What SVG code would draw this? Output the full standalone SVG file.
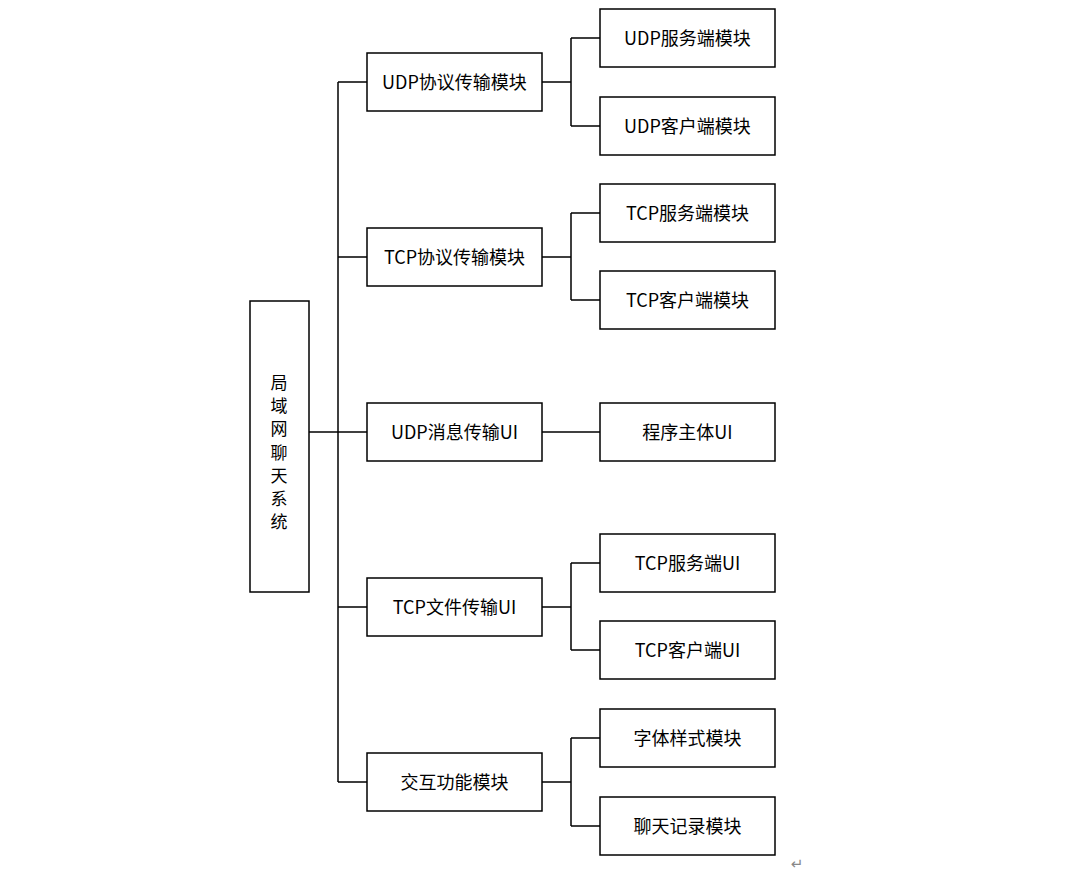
<svg xmlns="http://www.w3.org/2000/svg" width="1071" height="878" viewBox="0 0 1071 878">
<style>
.box{fill:#fff;stroke:#000;stroke-width:1.5}
.lbl{font-family:"Noto Sans CJK SC","Liberation Sans",sans-serif;font-size:18px;fill:#000;text-anchor:middle;dominant-baseline:central}
.vt{font-size:17px}
.ln{fill:none;stroke:#000;stroke-width:1.5}
</style>
<rect width="1071" height="878" fill="#fff"/>
<g id="connectors">
<path class="ln" d="M309 432H367"/>
<path class="ln" d="M338 82V782"/>
<path class="ln" d="M338 82H367M338 257H367M338 607H367M338 782H367"/>
<path class="ln" d="M542 82H571M571 38V126M571 38H600M571 126H600"/>
<path class="ln" d="M542 257H571M571 213V300M571 213H600M571 300H600"/>
<path class="ln" d="M542 432H600"/>
<path class="ln" d="M542 607H571M571 563V650M571 563H600M571 650H600"/>
<path class="ln" d="M542 782H571M571 738V826M571 738H600M571 826H600"/>
</g>
<g id="root">
<rect class="box" x="250" y="301" width="59" height="291"/>
<text class="lbl vt" x="279" y="381">局</text>
<text class="lbl vt" x="279" y="404">域</text>
<text class="lbl vt" x="279" y="427.5">网</text>
<text class="lbl vt" x="279" y="451">聊</text>
<text class="lbl vt" x="279" y="474">天</text>
<text class="lbl vt" x="279" y="497">系</text>
<text class="lbl vt" x="279" y="520">统</text>
</g>
<g id="udp-proto"><rect class="box" x="367" y="53" width="175" height="58"/><text class="lbl" x="454.5" y="80.5">UDP协议传输模块</text></g>
<g id="tcp-proto"><rect class="box" x="367" y="228" width="175" height="58"/><text class="lbl" x="454.5" y="255.5">TCP协议传输模块</text></g>
<g id="udp-msg"><rect class="box" x="367" y="403" width="175" height="58"/><text class="lbl" x="454.5" y="430.5">UDP消息传输UI</text></g>
<g id="tcp-file"><rect class="box" x="367" y="578" width="175" height="58"/><text class="lbl" x="454.5" y="605.5">TCP文件传输UI</text></g>
<g id="interact"><rect class="box" x="367" y="753" width="175" height="58"/><text class="lbl" x="454.5" y="780.5">交互功能模块</text></g>
<g id="udp-server"><rect class="box" x="600" y="9" width="175" height="58"/><text class="lbl" x="687.5" y="36.5">UDP服务端模块</text></g>
<g id="udp-client"><rect class="box" x="600" y="97" width="175" height="58"/><text class="lbl" x="687.5" y="124.5">UDP客户端模块</text></g>
<g id="tcp-server"><rect class="box" x="600" y="184" width="175" height="58"/><text class="lbl" x="687.5" y="211.5">TCP服务端模块</text></g>
<g id="tcp-client"><rect class="box" x="600" y="271" width="175" height="58"/><text class="lbl" x="687.5" y="298.5">TCP客户端模块</text></g>
<g id="main-ui"><rect class="box" x="600" y="403" width="175" height="58"/><text class="lbl" x="687.5" y="430.5">程序主体UI</text></g>
<g id="tcp-server-ui"><rect class="box" x="600" y="534" width="175" height="58"/><text class="lbl" x="687.5" y="561.5">TCP服务端UI</text></g>
<g id="tcp-client-ui"><rect class="box" x="600" y="621" width="175" height="58"/><text class="lbl" x="687.5" y="648.5">TCP客户端UI</text></g>
<g id="font-style"><rect class="box" x="600" y="709" width="175" height="58"/><text class="lbl" x="687.5" y="736.5">字体样式模块</text></g>
<g id="chat-log"><rect class="box" x="600" y="797" width="175" height="58"/><text class="lbl" x="687.5" y="824.5">聊天记录模块</text></g>
<text x="797" y="864" font-family="DejaVu Sans,sans-serif" font-size="15" fill="#888" text-anchor="middle" dominant-baseline="central">↵</text>
</svg>
